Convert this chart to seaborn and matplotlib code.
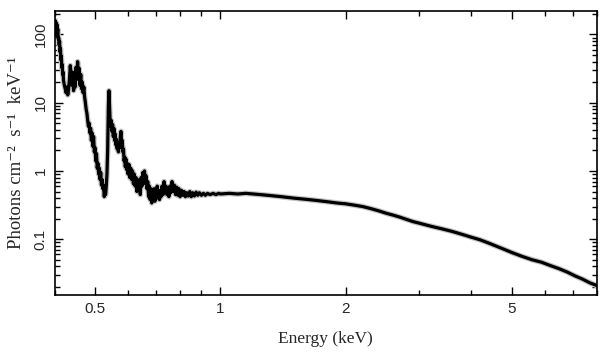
import matplotlib
matplotlib.use("Agg")
import matplotlib.pyplot as plt
import matplotlib.ticker as mticker
import seaborn as sns
import pandas as pd

# Energy (keV) and flux (photons cm^-2 s^-1 keV^-1)
energy = [
    0.400, 0.401, 0.402, 0.403, 0.404, 0.405, 0.406, 0.407, 0.408, 0.409,
    0.410, 0.411, 0.412, 0.413, 0.414, 0.415, 0.416, 0.417, 0.418, 0.419,
    0.420, 0.422, 0.424, 0.426, 0.428, 0.430, 0.432, 0.434, 0.436, 0.438,
    0.440, 0.442, 0.444, 0.446, 0.448, 0.450, 0.452, 0.454, 0.456, 0.458,
    0.460, 0.462, 0.464, 0.466, 0.468, 0.470, 0.472, 0.474, 0.476, 0.478,
    0.480, 0.482, 0.484, 0.486, 0.488, 0.490, 0.492, 0.494, 0.496, 0.498,
    0.500, 0.502, 0.504, 0.506, 0.508, 0.510, 0.512, 0.514, 0.516, 0.518,
    0.520, 0.522, 0.524, 0.526, 0.528, 0.530, 0.532, 0.534, 0.536, 0.537,
    0.538, 0.539, 0.540, 0.541, 0.542, 0.543, 0.545, 0.547, 0.549, 0.551,
    0.553, 0.555, 0.557, 0.559, 0.561, 0.563, 0.565, 0.567, 0.569, 0.571,
    0.573, 0.575, 0.577, 0.579, 0.581, 0.583, 0.585, 0.587, 0.589, 0.591,
    0.593, 0.595, 0.597, 0.600, 0.603, 0.606, 0.609, 0.612, 0.615, 0.618,
    0.621, 0.624, 0.627, 0.630, 0.633, 0.636, 0.639, 0.642, 0.645, 0.648,
    0.651, 0.654, 0.657, 0.660, 0.663, 0.666, 0.669, 0.672, 0.675, 0.678,
    0.681, 0.684, 0.687, 0.690, 0.693, 0.696, 0.699, 0.702, 0.705, 0.708,
    0.711, 0.714, 0.717, 0.720, 0.724, 0.728, 0.732, 0.736, 0.740, 0.744,
    0.748, 0.752, 0.756, 0.760, 0.765, 0.770, 0.775, 0.780, 0.785, 0.790,
    0.795, 0.800, 0.806, 0.812, 0.818, 0.824, 0.830, 0.837, 0.844, 0.851,
    0.858, 0.866, 0.874, 0.882, 0.890, 0.900, 0.910, 0.920, 0.930, 0.945,
    0.960, 0.975, 0.990, 1.00, 1.05, 1.10, 1.15, 1.20, 1.30,
    1.40, 1.50, 1.60, 1.70, 1.80, 1.90, 2.00, 2.10, 2.20, 2.30,
    2.40, 2.50, 2.60, 2.70, 2.80, 2.90, 3.00, 3.20, 3.40, 3.60,
    3.80, 4.00, 4.20, 4.40, 4.60, 4.80, 5.00, 5.30, 5.60, 5.90,
    6.20, 6.50, 6.80, 7.10, 7.40, 7.70, 8.00,
]
flux = [
    110, 160, 120, 150, 95, 140, 105, 120, 85, 90,
    70, 80, 55, 62, 42, 48, 33, 36, 26, 28,
    21, 18, 16, 14, 17, 13, 16, 22, 35, 26,
    18, 28, 15, 24, 17, 33, 22, 40, 24, 32,
    18, 26, 16, 20, 14, 17, 12, 10, 8, 7,
    5.5, 4.5, 5, 3.6, 4.2, 2.8, 3.6, 2.3, 3.2, 1.9,
    2.2, 1.4, 1.8, 1.1, 1.3, 0.9, 1.1, 0.75, 0.95, 0.62,
    0.75, 0.55, 0.62, 0.42, 0.5, 0.45, 0.6, 0.9, 2.0, 4.5,
    8, 12, 15, 11, 8, 6, 4.5, 5.5, 3.8, 4.8,
    3.2, 4.2, 2.8, 3.5, 2.4, 2.9, 2.1, 2.6, 1.9, 2.6,
    2.2, 3.2, 3.8, 2.6, 2.8, 1.9, 2.1, 1.4, 1.6, 1.15,
    1.5, 1.05, 1.3, 0.9, 1.25, 0.8, 1.1, 0.75, 1.0, 0.65,
    0.9, 0.6, 0.8, 0.5, 0.75, 0.55, 0.7, 0.45, 0.8, 0.6,
    0.95, 0.65, 1.0, 0.7, 0.85, 0.55, 0.7, 0.42, 0.6, 0.38,
    0.55, 0.34, 0.5, 0.4, 0.55, 0.36, 0.5, 0.42, 0.6, 0.4,
    0.52, 0.38, 0.5, 0.42, 0.6, 0.45, 0.7, 0.5, 0.6, 0.45,
    0.55, 0.42, 0.6, 0.48, 0.7, 0.5, 0.62, 0.45, 0.58, 0.44,
    0.55, 0.42, 0.52, 0.44, 0.5, 0.42, 0.48, 0.43, 0.5, 0.42,
    0.48, 0.43, 0.49, 0.44, 0.48, 0.44, 0.47, 0.44, 0.47, 0.45,
    0.47, 0.45, 0.47, 0.46, 0.47, 0.46, 0.47, 0.46, 0.44,
    0.42, 0.40, 0.385, 0.37, 0.355, 0.34, 0.33, 0.315, 0.30, 0.28,
    0.26, 0.24, 0.225, 0.21, 0.195, 0.181, 0.172, 0.155, 0.142, 0.13,
    0.118, 0.107, 0.098, 0.088, 0.079, 0.071, 0.064, 0.056, 0.050, 0.046,
    0.041, 0.037, 0.033, 0.029, 0.026, 0.023, 0.021,
]

x_major = [0.5, 1, 2, 5]
x_major_labels = ["0.5", "1", "2", "5"]
x_minor = [0.4, 0.6, 0.7, 0.8, 0.9, 3, 4, 6, 7, 8]
y_major = [0.1, 1, 10, 100]
y_major_labels = ["0.1", "1", "10", "100"]

df = pd.DataFrame({"energy": energy, "flux": flux})

sns.set_theme(style="ticks")

fig = plt.figure(figsize=(6.09, 3.57), dpi=100)
ax = fig.add_axes([0.0898, 0.174, 0.8900, 0.795])

sns.lineplot(data=df, x="energy", y="flux", ax=ax, estimator=None, sort=False,
             color="#c4c4c4", linewidth=4.0)
sns.lineplot(data=df, x="energy", y="flux", ax=ax, estimator=None, sort=False,
             color="black", linewidth=2.3)

ax.set_xscale("log")
ax.set_yscale("log")
ax.set_xlim(0.4, 8.0)
ax.set_ylim(0.0153, 220)

ax.xaxis.set_major_locator(mticker.FixedLocator(x_major))
ax.xaxis.set_major_formatter(mticker.FixedFormatter(x_major_labels))
ax.xaxis.set_minor_locator(mticker.FixedLocator(x_minor))
ax.xaxis.set_minor_formatter(mticker.NullFormatter())
ax.yaxis.set_major_locator(mticker.FixedLocator(y_major))
ax.yaxis.set_major_formatter(mticker.FixedFormatter(y_major_labels))
ax.yaxis.set_minor_locator(mticker.LogLocator(base=10, subs=[2, 3, 4, 5, 6, 7, 8, 9]))
ax.yaxis.set_minor_formatter(mticker.NullFormatter())

ax.tick_params(which="both", direction="in", top=True, right=True, color="black", width=1.0)
ax.tick_params(which="major", length=6, labelsize=11, pad=5)
ax.tick_params(which="minor", length=3.5)
for lab in ax.get_xticklabels() + ax.get_yticklabels():
    lab.set_fontfamily("Liberation Sans")
for lab in ax.get_yticklabels():
    lab.set_rotation(90)
    lab.set_va("center")

for s in ax.spines.values():
    s.set_linewidth(1.2)
    s.set_color("black")

ax.set_xlabel("Energy (keV)", fontfamily="Liberation Serif", fontsize=12.5, labelpad=11)
ax.set_ylabel("Photons cm\u207b\u00b2  s\u207b\u00b9  keV\u207b\u00b9",
              family=["Liberation Serif", "DejaVu Serif"], fontsize=13.5, labelpad=6)

fig.savefig("out.png", dpi=100)
